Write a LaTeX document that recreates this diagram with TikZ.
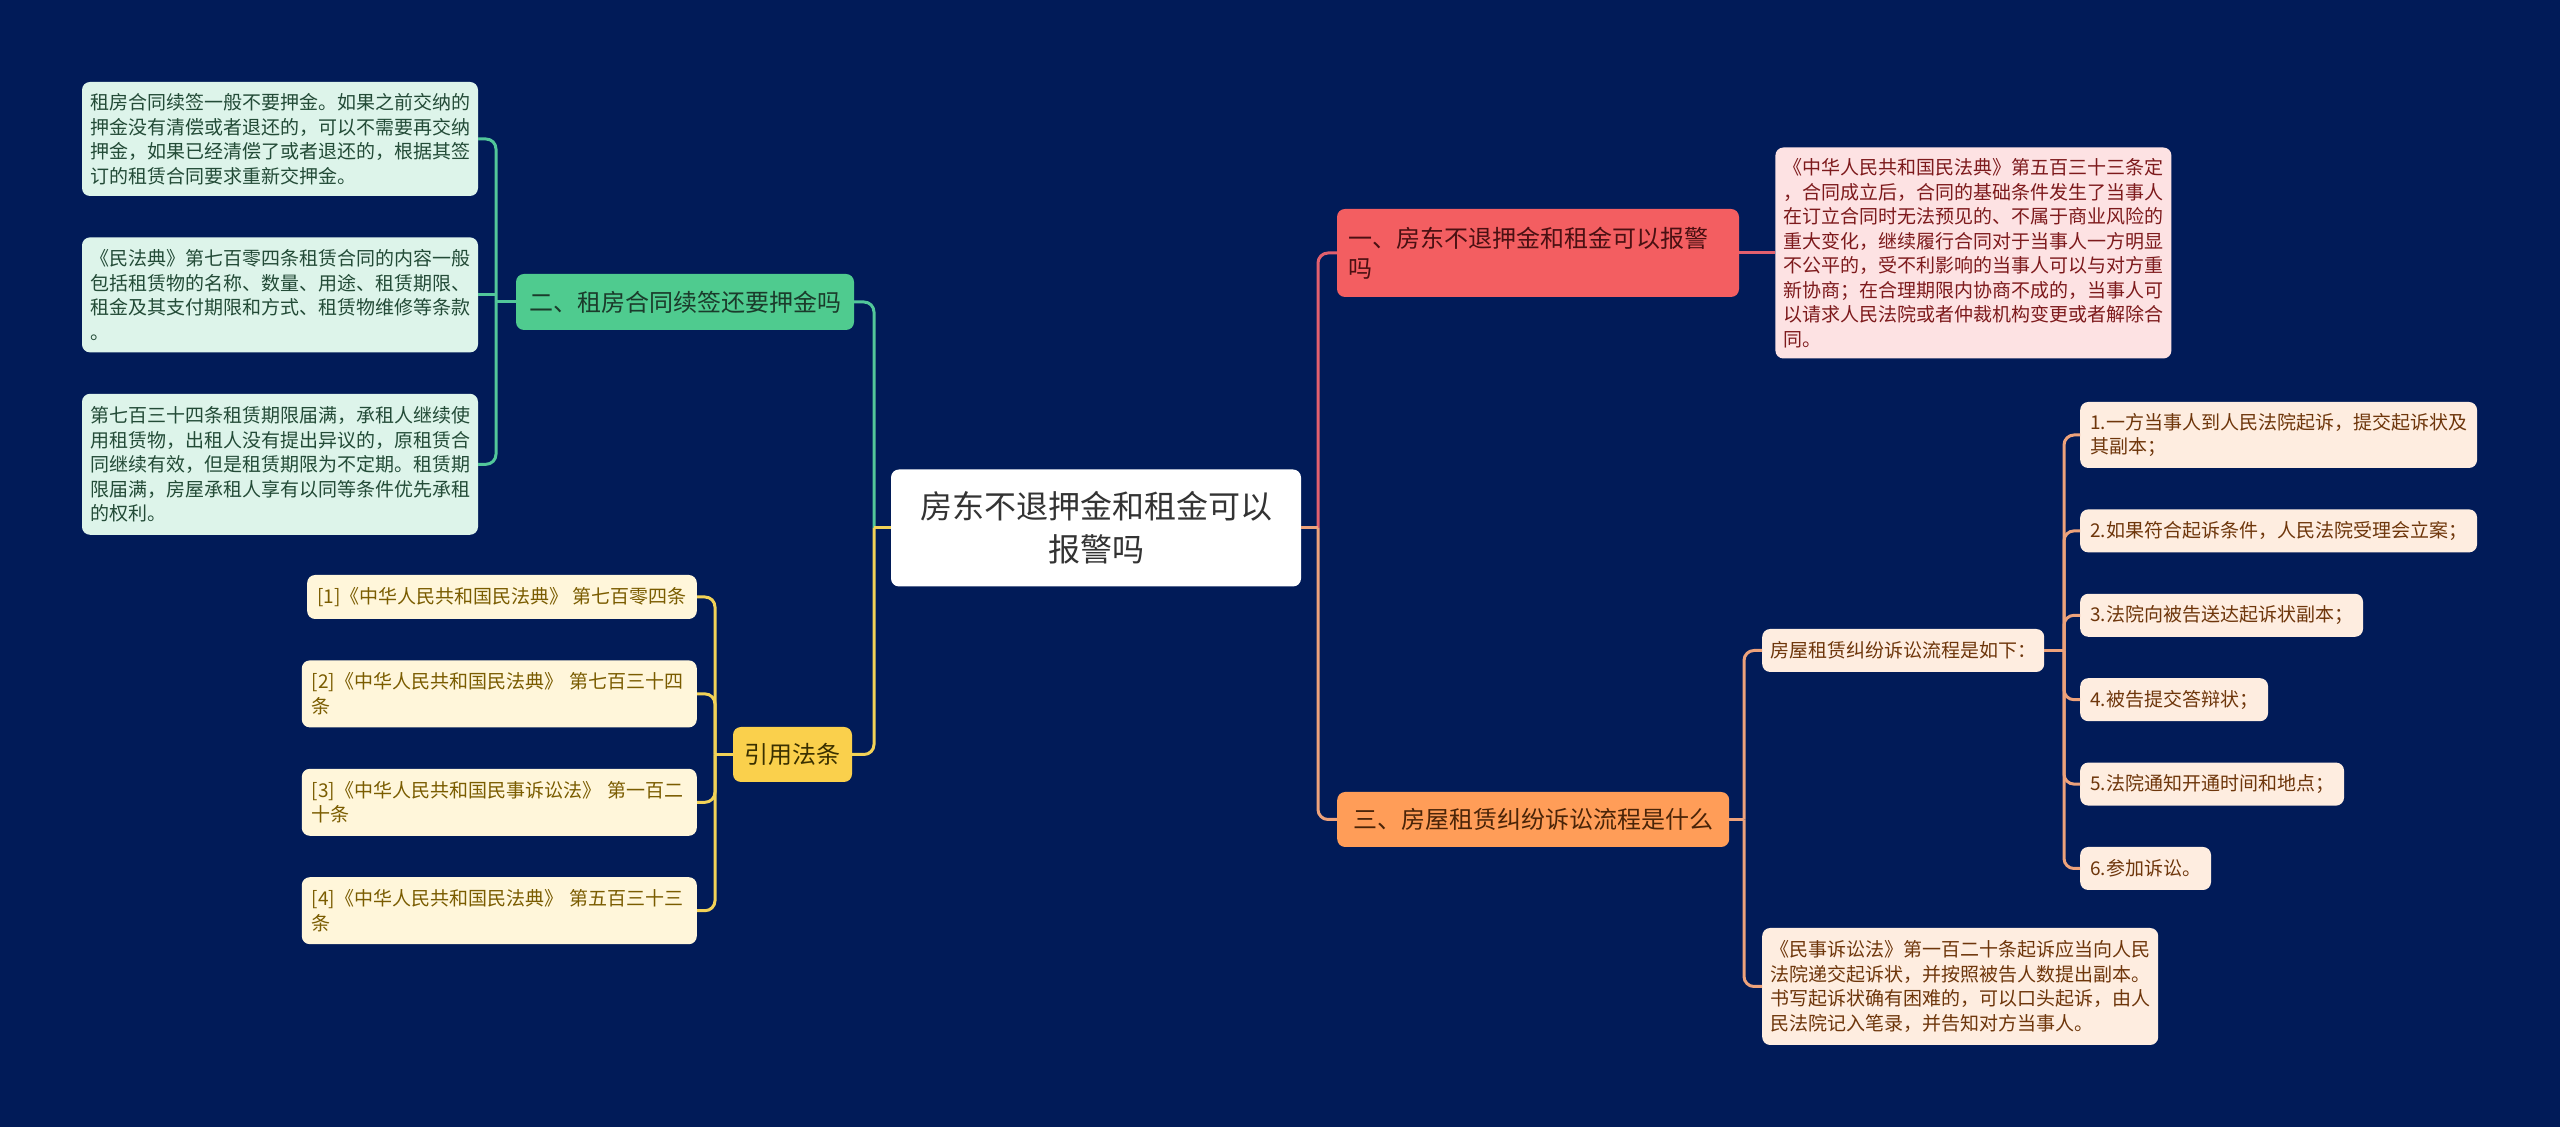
\documentclass[tikz,border=0pt]{standalone}
\usepackage{fontspec}
\setmainfont{Noto Sans CJK SC}
\usetikzlibrary{positioning}

\definecolor{bgnavy}{HTML}{011B58}
\definecolor{rootText}{HTML}{333333}
\definecolor{greenMain}{HTML}{4FCB8F}
\definecolor{greenText}{HTML}{1B3B2B}
\definecolor{greenLeaf}{HTML}{DDF4EA}
\definecolor{greenLeafText}{HTML}{234B37}
\definecolor{greenLine}{HTML}{52C79A}
\definecolor{yellowMain}{HTML}{FAD04C}
\definecolor{yellowText}{HTML}{3A3000}
\definecolor{yellowLeaf}{HTML}{FFF6DA}
\definecolor{yellowLeafText}{HTML}{7A5C00}
\definecolor{yellowLine}{HTML}{F2D257}
\definecolor{redMain}{HTML}{F35E61}
\definecolor{redText}{HTML}{4A1012}
\definecolor{redLeaf}{HTML}{FDE2E3}
\definecolor{redLeafText}{HTML}{7D1A1C}
\definecolor{redLine}{HTML}{E2606E}
\definecolor{orangeMain}{HTML}{FF9D58}
\definecolor{orangeText}{HTML}{4A2408}
\definecolor{orangeLeaf}{HTML}{FEEDE0}
\definecolor{orangeLeafText}{HTML}{6E360B}
\definecolor{orangeLine}{HTML}{EDA27B}

\begin{document}
\begin{tikzpicture}[
    x=1pt, y=1pt,
    node distance=41pt,
    base/.style={rectangle, rounded corners=8pt, inner ysep=6pt},
    rootbox/.style={base, fill=white, text=rootText, font=\fontsize{32}{43}\selectfont, align=center, inner xsep=29pt, minimum height=117pt},
    topicG/.style={base, fill=greenMain, text=greenText, font=\fontsize{24}{30}\selectfont, inner xsep=13pt, minimum height=56pt},
    topicY/.style={base, fill=yellowMain, text=yellowText, font=\fontsize{24}{30}\selectfont, inner xsep=11.5pt, minimum height=55pt},
    topicR/.style={base, fill=redMain, text=redText, font=\fontsize{24}{30}\selectfont, text width=380pt, align=left, inner xsep=11pt, minimum height=88pt},
    topicO/.style={base, fill=orangeMain, text=orangeText, font=\fontsize{24}{30}\selectfont, inner xsep=16pt, minimum height=55pt},
    leafG/.style={base, fill=greenLeaf, text=greenLeafText, font=\fontsize{19}{24.5}\selectfont, text width=380pt, align=left, inner xsep=8pt},
    leafY/.style={base, fill=yellowLeaf, text=yellowLeafText, font=\fontsize{19}{24.5}\selectfont, align=left, inner xsep=10pt, minimum height=44pt},
    leafR/.style={base, fill=redLeaf, text=redLeafText, font=\fontsize{19}{24.5}\selectfont, text width=380pt, align=left, inner xsep=8pt},
    leafO/.style={base, fill=orangeLeaf, text=orangeLeafText, font=\fontsize{19}{24.5}\selectfont, align=left, inner xsep=8pt, minimum height=43pt},
    stepO/.style={leafO, inner xsep=10pt},
    lineG/.style={draw=greenLine, line width=3pt},
    lineY/.style={draw=yellowLine, line width=3pt},
    lineR/.style={draw=redLine, line width=3pt},
    lineO/.style={draw=orangeLine, line width=3pt},
    elbow/.style={rounded corners=10pt}
]

% Background
\useasboundingbox (0,0) rectangle (2560,1127);
\fill[bgnavy] (0,0) rectangle (2560,1127);

% Centre
\node[rootbox] (root) at (1096,599) {房东不退押金和租金可以\\报警吗};

% Left Branch (Renewal)
\node[topicG] (n2) at (685,825) {二、租房合同续签还要押金吗};
\node[leafG, minimum height=114pt] (l1) at (280,988) {租房合同续签一般不要押金。如果之前交纳的\\押金没有清偿或者退还的，可以不需要再交纳\\押金，如果已经清偿了或者退还的，根据其签\\订的租赁合同要求重新交押金。};
\node[leafG, minimum height=115pt, below=of l1] (l2) {《民法典》第七百零四条租赁合同的内容一般\\包括租赁物的名称、数量、用途、租赁期限、\\租金及其支付期限和方式、租赁物维修等条款\\。};
\node[leafG, minimum height=141pt, below=of l2] (l3) {第七百三十四条租赁期限届满，承租人继续使\\用租赁物，出租人没有提出异议的，原租赁合\\同继续有效，但是租赁期限为不定期。租赁期\\限届满，房屋承租人享有以同等条件优先承租\\的权利。};

% Left Branch (Citations)
\node[topicY] (cite) at (792.5,372.5) {引用法条};
\node[leafY, anchor=east] (y1) at (697,530) {[1]《中华人民共和国民法典》 第七百零四条};
\node[leafY, text width=375pt, minimum height=67pt, below=of y1.south east, anchor=north east] (y2) {[2]《中华人民共和国民法典》 第七百三十四\\条};
\node[leafY, text width=375pt, minimum height=67pt, below=of y2.south east, anchor=north east] (y3) {[3]《中华人民共和国民事诉讼法》 第一百二\\十条};
\node[leafY, text width=375pt, minimum height=67pt, below=of y3.south east, anchor=north east] (y4) {[4]《中华人民共和国民法典》 第五百三十三\\条};

% Right Branch (Police)
\node[topicR] (n1) at (1538,874) {一、房东不退押金和租金可以报警\\吗};
\node[leafR, minimum height=211pt, right=36pt of n1] (lawR) {《中华人民共和国民法典》第五百三十三条定\\，合同成立后，合同的基础条件发生了当事人\\在订立合同时无法预见的、不属于商业风险的\\重大变化，继续履行合同对于当事人一方明显\\不公平的，受不利影响的当事人可以与对方重\\新协商；在合理期限内协商不成的，当事人可\\以请求人民法院或者仲裁机构变更或者解除合\\同。};

% Right Branch (Lawsuit)
\node[topicO, anchor=west] (n3) at (1337,307.5) {三、房屋租赁纠纷诉讼流程是什么};
\node[leafO, anchor=west] (flow) at (1762,476.5) {房屋租赁纠纷诉讼流程是如下：};
\node[leafO, anchor=west, text width=380pt, minimum height=117pt] (civil) at (1762,140.5) {《民事诉讼法》第一百二十条起诉应当向人民\\法院递交起诉状，并按照被告人数提出副本。\\书写起诉状确有困难的，可以口头起诉，由人\\民法院记入笔录，并告知对方当事人。};
\node[stepO, anchor=west, minimum height=66pt] (s1) at (2080,692) {1.一方当事人到人民法院起诉，提交起诉状及\\其副本；};
\node[stepO, below=of s1.south west, anchor=north west] (s2) {2.如果符合起诉条件，人民法院受理会立案；};
\node[stepO, below=of s2.south west, anchor=north west] (s3) {3.法院向被告送达起诉状副本；};
\node[stepO, below=of s3.south west, anchor=north west] (s4) {4.被告提交答辩状；};
\node[stepO, below=of s4.south west, anchor=north west] (s5) {5.法院通知开通时间和地点；};
\node[stepO, below=of s5.south west, anchor=north west] (s6) {6.参加诉讼。};

% Junctions
\coordinate (rj) at (1318,599);
\coordinate (lj) at (874,599);
\coordinate (gj) at (496,825);
\coordinate (yj) at (715,372.5);
\coordinate (oj) at (1744,307.5);
\coordinate (sj) at (2064,476.5);

% Connections
\draw[lineR, elbow] (rj) |- (n1.west);
\draw[lineO, elbow] (rj) |- (n3.west);
\draw[lineO] (root.east) -- (rj);
\draw[lineG, elbow] (lj) |- (n2.east);
\draw[lineY, elbow] (lj) |- (cite.east);
\draw[lineY] (root.west) -- (lj);

\draw[lineG] (n2.west) -- (gj);
\draw[lineG, elbow] (gj) |- (l1.east);
\draw[lineG, elbow] (gj) |- (l3.east);
\draw[lineG] (l2.east -| gj) -- (l2.east);

\draw[lineY] (cite.west) -- (yj);
\draw[lineY, elbow] (yj) |- (y1.east);
\draw[lineY, elbow] (yj) |- (y2.east);
\draw[lineY, elbow] (yj) |- (y3.east);
\draw[lineY, elbow] (yj) |- (y4.east);

\draw[lineR] (n1.east) -- (lawR.west);

\draw[lineO] (n3.east) -- (oj);
\draw[lineO, elbow] (oj) |- (flow.west);
\draw[lineO, elbow] (oj) |- (civil.west);

\draw[lineO] (flow.east) -- (sj);
\draw[lineO, elbow] (sj) |- (s1.west);
\draw[lineO, elbow] (sj) |- (s2.west);
\draw[lineO, elbow] (sj) |- (s3.west);
\draw[lineO, elbow] (sj) |- (s4.west);
\draw[lineO, elbow] (sj) |- (s5.west);
\draw[lineO, elbow] (sj) |- (s6.west);

\end{tikzpicture}
\end{document}
